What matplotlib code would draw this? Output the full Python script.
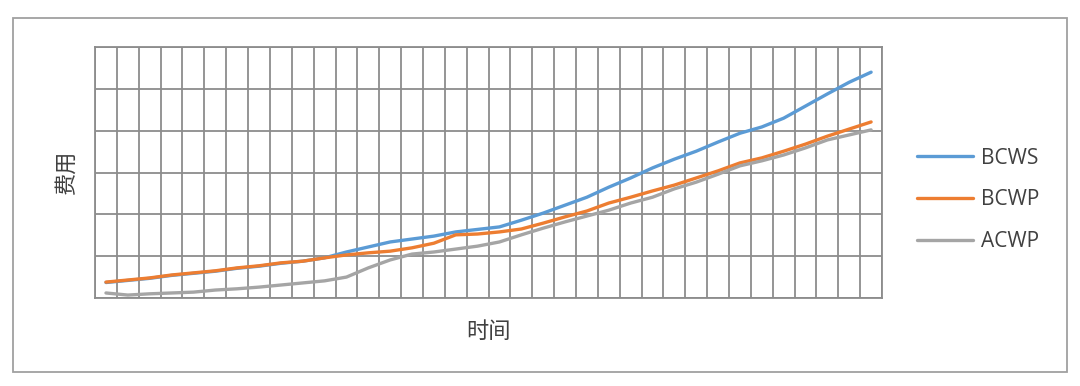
import matplotlib
matplotlib.use("Agg")
import matplotlib.pyplot as plt
from matplotlib.patches import Rectangle
import numpy as np

plt.rcParams['font.family'] = ['Noto Sans CJK SC', 'DejaVu Sans']

# 36 time periods, cost (one grid row = 100)
periods = list(range(1, 37))
bcws = [37, 42, 47, 54, 59, 64, 71, 76, 83, 88, 96, 110,
        122, 134, 141, 148, 158, 164, 170, 186, 203, 222, 241, 265,
        287, 311, 332, 351, 373, 394, 409, 430, 459, 488, 516, 540]
bcwp = [38, 43, 48, 55, 60, 65, 72, 77, 84, 88, 96, 103,
        108, 112, 120, 131, 151, 153, 158, 165, 179, 194, 208, 227,
        241, 256, 270, 287, 304, 323, 335, 351, 368, 387, 404, 421]
acwp = [12, 7, 10, 12, 14, 19, 22, 26, 31, 36, 41, 50,
        72, 91, 105, 110, 117, 124, 134, 151, 167, 182, 196, 210,
        227, 241, 261, 277, 296, 316, 328, 342, 359, 378, 390, 402]

series = [("BCWS", bcws, "#5B9BD5"),
          ("BCWP", bcwp, "#ED7D31"),
          ("ACWP", acwp, "#A5A5A5")]

fig = plt.figure(figsize=(10.8, 3.86), dpi=100)
ax = fig.add_axes([0.088, 0.228, 0.7287, 0.650])

x = np.arange(len(periods))
for name, vals, col in series:
    ax.plot(x, vals, color=col, lw=2.4, label=name, solid_capstyle="round", zorder=3)

ax.set_xlim(-0.5, len(periods) - 0.5)
ax.set_ylim(0, 600)
ax.set_xticks(np.arange(-0.5, len(periods), 1))
ax.set_yticks(np.arange(0, 601, 100))
ax.set_xticklabels([])
ax.set_yticklabels([])
ax.tick_params(length=0)
ax.grid(True, color="#8c8c8c", lw=1.3)
ax.set_axisbelow(True)
for s in ax.spines.values():
    s.set_color("#8c8c8c")
    s.set_linewidth(1.3)

ax.set_ylabel("费用", fontsize=16, color="#404040", labelpad=9)
ax.set_xlabel("时间", fontsize=16, color="#404040", labelpad=12)

leg = fig.legend(loc="center left", bbox_to_anchor=(0.832, 0.482), frameon=False,
                 fontsize=15, handlelength=2.65, labelspacing=1.0,
                 handletextpad=0.4)
for t in leg.get_texts():
    t.set_color("#404040")
    t.set_family(["Open Sans", "DejaVu Sans"])

fig.patches.append(Rectangle((13 / 1080, 14 / 386), 1054 / 1080, 354 / 386,
                             transform=fig.transFigure, fill=False,
                             edgecolor="#a0a0a0", lw=1.3))

fig.savefig("out.png", dpi=100)
